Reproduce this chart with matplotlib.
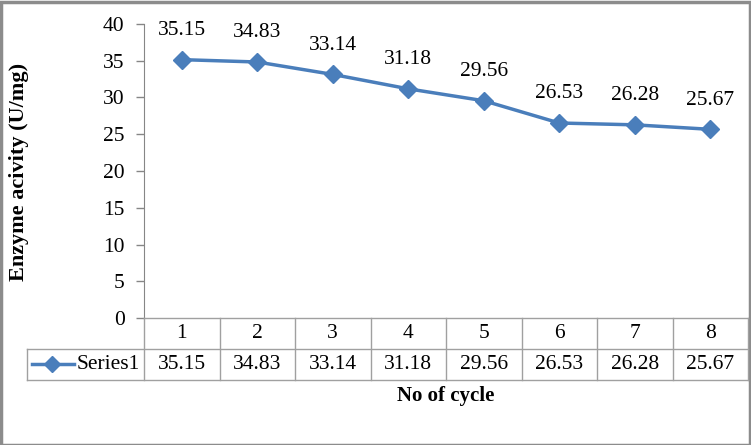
import numpy as np
import matplotlib.pyplot as plt
from matplotlib.lines import Line2D
from matplotlib.patches import Rectangle

plt.rcParams['font.family'] = ['Liberation Serif', 'DejaVu Serif']

# data
cycles = ["1", "2", "3", "4", "5", "6", "7", "8"]
activity = [35.15, 34.83, 33.14, 31.18, 29.56, 26.53, 26.28, 25.67]
series_name = "Series1"

W, H = 751, 445
fig = plt.figure(figsize=(W/100, H/100), dpi=100)

# plot area in pixels
left, right, top, bottom = 144, 748, 24, 318
ax = fig.add_axes([left/W, 1-bottom/H, (right-left)/W, (bottom-top)/H])

blue = "#4A7EBB"
grid = "#A0A0A0"
fs = 15.5
fsb = 15

x = np.arange(len(cycles)) + 0.5
ax.plot(x, activity, color=blue, lw=2.5, marker="D", ms=9, mec=blue, mfc=blue, clip_on=False)
for xi, v in zip(x, activity):
    ax.annotate(f"{v:.2f}", (xi, v), xytext=(0, 21), textcoords="offset points",
                ha="center", va="center", fontsize=fs)

ax.set_xlim(0, len(cycles))
ax.set_ylim(0, 40)
ax.set_yticks(range(0, 41, 5))
ax.tick_params(axis="y", length=6, width=1, color="#868686", labelsize=fs, pad=8)
ax.set_xticks([])
for s in ["top", "right", "bottom"]:
    ax.spines[s].set_visible(False)
ax.spines["left"].set_color("#868686")

# data table below the axes (pixel coords -> figure fraction)
def fx(px):
    return px / W

def fy(py):
    return 1 - py / H

row1, row2, row3 = 318, 349, 380
leg_left = 27
colw = (right - left) / len(cycles)

lines = []
lines.append(([fx(left), fx(right)], [fy(row1)] * 2))
lines.append(([fx(leg_left), fx(right)], [fy(row2)] * 2))
lines.append(([fx(leg_left), fx(right)], [fy(row3)] * 2))
lines.append(([fx(leg_left)] * 2, [fy(row2), fy(row3)]))
for i in range(len(cycles) + 1):
    xp = left + i * colw
    lines.append(([fx(xp)] * 2, [fy(row1), fy(row3)]))
for xs, ys in lines:
    fig.add_artist(Line2D(xs, ys, color=grid, lw=1))

for i, (c, v) in enumerate(zip(cycles, activity)):
    xc = fx(left + (i + 0.5) * colw)
    fig.text(xc, fy((row1 + row2) / 2), c, ha="center", va="center", fontsize=fs)
    fig.text(xc, fy((row2 + row3) / 2), f"{v:.2f}", ha="center", va="center", fontsize=fs)

# legend key in table
ymid = fy((row2 + row3) / 2 - 1)
fig.add_artist(Line2D([fx(32), fx(74)], [ymid, ymid], color=blue, lw=2.5))
fig.add_artist(Line2D([fx(52)], [ymid], color=blue, marker="D", ms=8, lw=0))
fig.text(fx(77), fy((row2 + row3) / 2), series_name, ha="left", va="center", fontsize=fs)

# axis titles
fig.text(fx((left + right) / 2), fy(396), "No of cycle", ha="center", va="center",
         fontsize=fsb, fontweight="bold")
fig.text(fx(19), fy(172), "Enzyme acivity (U/mg)", ha="center", va="center",
         rotation=90, fontsize=16, fontweight="bold")

# outer frame
fig.add_artist(Rectangle((0.5/W, 0.5/H), 1 - 2/W, 1 - 2/H, transform=fig.transFigure,
                         fill=False, edgecolor="#8C8C8C", lw=2.5))

fig.savefig("out.png", dpi=100)
